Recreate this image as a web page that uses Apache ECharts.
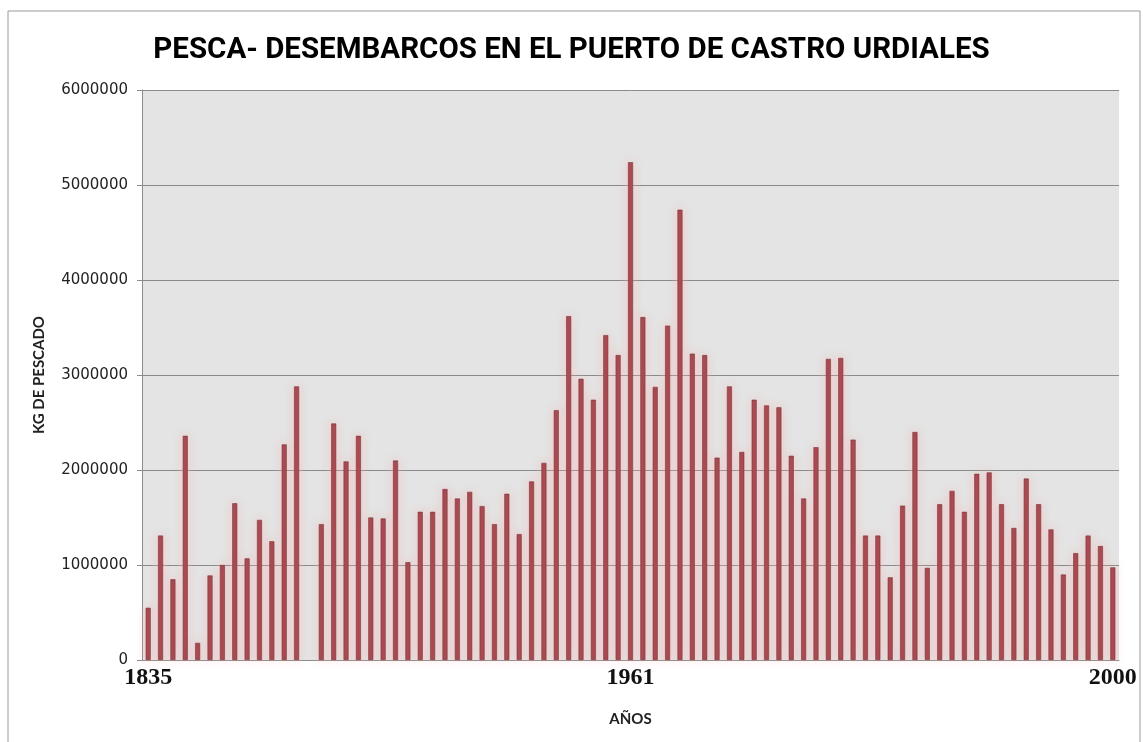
<!DOCTYPE html>
<html lang="es">
<head>
    <meta charset="UTF-8">
    <script src="https://cdn.jsdelivr.net/npm/echarts@6/dist/echarts.min.js"></script>
    <title>Pesca Castro Urdiales</title>
    <style>
        body { margin: 0; background: #fff; }
    </style>
</head>
<body>
    <div id="main" style="width: 1143px; height: 742px;"></div>
    <script>
        // 79 barras, solo tres etiquetas de año en el eje
        var categories = [
            '1835', '', '', '', '', '', '', '', '', '',
            '', '', '', '', '', '', '', '', '', '',
            '', '', '', '', '', '', '', '', '', '',
            '', '', '', '', '', '', '', '', '', '1961',
            '', '', '', '', '', '', '', '', '', '',
            '', '', '', '', '', '', '', '', '', '',
            '', '', '', '', '', '', '', '', '', '',
            '', '', '', '', '', '', '', '', '2000'
        ];

        // kg de pescado desembarcados (null = sin dato)
        var kgPescado = [
            550000, 1310000, 850000, 2360000, 180000, 890000, 1000000, 1650000, 1070000, 1475000,
            1250000, 2270000, 2880000, null, 1430000, 2490000, 2090000, 2360000, 1500000, 1490000,
            2100000, 1030000, 1560000, 1560000, 1800000, 1700000, 1770000, 1620000, 1430000, 1750000,
            1325000, 1880000, 2075000, 2630000, 3620000, 2960000, 2740000, 3420000, 3210000, 5240000,
            3610000, 2875000, 3520000, 4740000, 3225000, 3210000, 2130000, 2880000, 2190000, 2740000,
            2680000, 2660000, 2150000, 1700000, 2240000, 3170000, 3180000, 2320000, 1310000, 1310000,
            870000, 1625000, 2400000, 970000, 1640000, 1780000, 1560000, 1960000, 1975000, 1640000,
            1390000, 1910000, 1640000, 1375000, 900000, 1125000, 1310000, 1200000, 975000
        ];

        var yTicks = { min: 0, max: 6000000, interval: 1000000 };

        var myChart = echarts.init(document.getElementById('main'));
        var option = {
            backgroundColor: '#ffffff',
            animation: false,
            graphic: [{
                type: 'rect',
                shape: { x: 8, y: 11, width: 1132, height: 740 },
                style: { fill: 'none', stroke: '#9a9a9a', lineWidth: 1 },
                silent: true
            }],
            title: {
                text: 'PESCA- DESEMBARCOS EN EL PUERTO DE CASTRO URDIALES',
                left: 'center',
                top: 31,
                textStyle: {
                    fontFamily: 'Roboto, sans-serif',
                    fontWeight: 'bold',
                    fontSize: 29.5,
                    color: '#000'
                }
            },
            grid: {
                left: 142,
                right: 24,
                top: 90,
                bottom: 82,
                show: true,
                backgroundColor: '#e4e4e4',
                borderWidth: 0
            },
            xAxis: {
                type: 'category',
                data: categories,
                name: 'AÑOS',
                nameLocation: 'middle',
                nameGap: 52,
                nameTextStyle: {
                    fontFamily: 'Lato, sans-serif',
                    fontWeight: 'bold',
                    fontSize: 15,
                    color: '#222'
                },
                axisLine: { lineStyle: { color: '#8c8c8c', width: 1 } },
                axisTick: { show: false },
                axisLabel: {
                    interval: 0,
                    margin: 6,
                    fontFamily: '"Liberation Serif", serif',
                    fontWeight: 'bold',
                    fontSize: 24,
                    color: '#111'
                }
            },
            yAxis: {
                type: 'value',
                min: yTicks.min,
                max: yTicks.max,
                interval: yTicks.interval,
                name: 'KG DE PESCADO',
                nameLocation: 'middle',
                nameGap: 95,
                nameRotate: 90,
                nameTextStyle: {
                    fontFamily: 'Lato, sans-serif',
                    fontWeight: 'bold',
                    fontSize: 15,
                    color: '#222'
                },
                axisLine: { show: true, lineStyle: { color: '#8c8c8c' } },
                axisTick: { show: true, length: 5, lineStyle: { color: '#8c8c8c' } },
                axisLabel: {
                    margin: 14,
                    fontFamily: '"DejaVu Sans", sans-serif',
                    fontSize: 15,
                    color: '#222',
                    formatter: function (v) { return String(v); }
                },
                splitLine: { lineStyle: { color: '#8a8a8a', width: 1 } }
            },
            series: [{
                name: 'kg',
                type: 'bar',
                data: kgPescado,
                barWidth: 5,
                itemStyle: {
                    color: '#a3444c',
                    borderColor: '#7e3439',
                    borderWidth: 0.6,
                    shadowColor: 'rgba(255, 180, 180, 0.7)',
                    shadowBlur: 8
                }
            }]
        };
        myChart.setOption(option);
    </script>
</body>
</html>
